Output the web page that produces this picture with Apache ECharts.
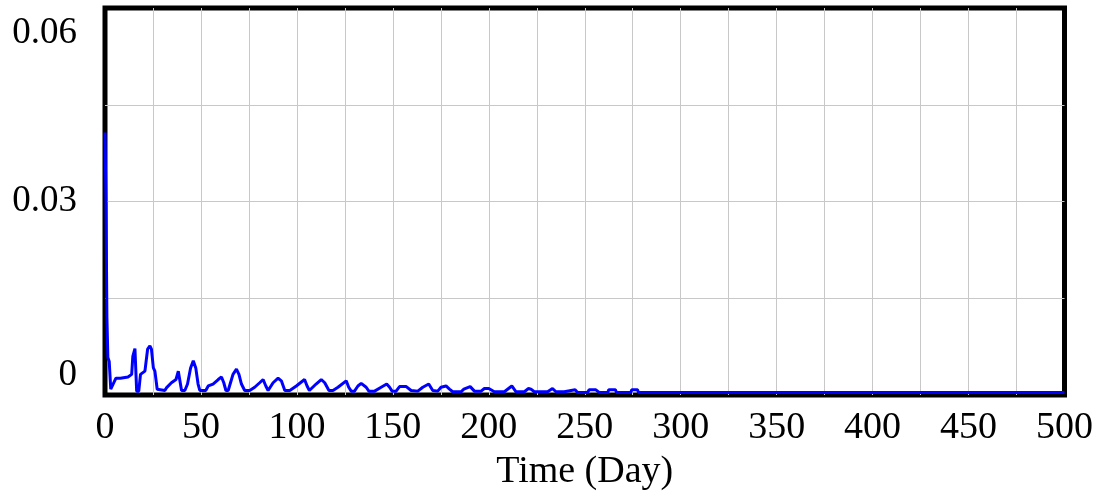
<!DOCTYPE html>
<html>
<head>
<meta charset="utf-8">
<script src="https://cdn.jsdelivr.net/npm/echarts@6/dist/echarts.min.js"></script>
<style>
html,body{margin:0;padding:0;background:#fff;}
#chart{width:1096px;height:496px;}
</style>
</head>
<body>
<div id="chart"></div>
<script>
const timeDays = [0,0.5,1,1.5,2.2,3,4,5.7,8,12,13.9,14.5,15.2,15.6,16.3,16.5,17.6,18.5,20.8,22.2,23.4,24.2,25.2,26,27.2,31.2,32,34.6,37,38.2,39,39.9,41.6,43,44.6,46,47.3,48.5,49.4,52.5,53.8,56.3,59,60.7,61.9,63,64.2,65.4,66.7,68.5,69.8,71.1,72.8,75.4,78,80.6,82.4,83.8,85,87.6,90.2,91.9,93.7,96.3,99.7,101,104,105.3,106.5,107.5,110,112.7,114.5,116.7,118.8,121.4,125.7,127,128.3,130,131.8,133.5,136.1,137.5,140.5,143.9,146.8,148.3,149.6,151.7,153.5,157,159.5,163,165.6,168.7,170.8,173.4,175.1,177.7,179.5,181.2,185.5,187,190.3,192.5,196,197.7,200,202.9,208.1,212,214.2,218.5,220.7,222,223.7,230.6,233.2,235,239.3,240.2,245,246.3,251.4,252.3,255.8,257.5,262,262.5,266,266.5,274,274.5,277.5,278,500];
const values = [0.0407,0.030,0.012,0.0058,0.0052,0.0009,0.0007,0.0026,0.0026,0.0028,0.0032,0.006,0.0061,0.0072,0.0072,0.0006,0.0006,0.0032,0.0037,0.0071,0.0076,0.0071,0.0042,0.0037,0.0009,0.0007,0.0011,0.0019,0.0024,0.0037,0.0034,0.0007,0.0007,0.0017,0.0042,0.0053,0.0042,0.0017,0.0007,0.0007,0.0014,0.0017,0.0024,0.0028,0.0019,0.0007,0.0007,0.0019,0.0032,0.004,0.0032,0.0017,0.0007,0.0007,0.0012,0.0019,0.0024,0.0014,0.0007,0.0019,0.0026,0.0022,0.0007,0.0007,0.0014,0.0017,0.0024,0.0014,0.0007,0.0007,0.0017,0.0024,0.0019,0.0007,0.0007,0.0012,0.0022,0.0012,0.0006,0.0006,0.0014,0.0018,0.0012,0.0006,0.0006,0.0012,0.0017,0.0012,0.0006,0.0006,0.0013,0.0013,0.0007,0.0006,0.0012,0.0017,0.0007,0.0006,0.0012,0.0014,0.0009,0.0005,0.0005,0.0009,0.0013,0.0006,0.0006,0.001,0.001,0.0005,0.0005,0.0014,0.0005,0.0005,0.001,0.0009,0.0005,0.0005,0.001,0.0005,0.0005,0.0008,0.0008,0.0004,0.0004,0.0008,0.0008,0.0004,0.0004,0.0008,0.0008,0.0004,0.0004,0.0008,0.0008,0.0004,0.0004];
const xTickLabels = [0,50,100,150,200,250,300,350,400,450,500];
const yTickLabels = [0,0.03,0.06];
const xTitle = 'Time (Day)';

const points = timeDays.map((t,i)=>[t, values[i]]);
const FONT = '"Liberation Serif","Times New Roman",serif';
const chart = echarts.init(document.getElementById('chart'), null, {renderer:'canvas'});
chart.setOption({
  animation:false,
  backgroundColor:'#fff',
  grid:{left:105,right:30,top:8,bottom:99,show:true,borderColor:'#000',borderWidth:5,backgroundColor:'transparent'},
  xAxis:{
    type:'value',min:0,max:500,interval:25,
    name:xTitle,nameLocation:'middle',nameGap:58,
    nameTextStyle:{fontFamily:FONT,fontSize:38,color:'#000'},
    axisLine:{show:false},axisTick:{show:false},
    splitLine:{show:true,showMinLine:false,showMaxLine:false,lineStyle:{color:'#c8c8c8',width:1}},
    axisLabel:{fontFamily:FONT,fontSize:38,color:'#000',margin:14,
      formatter:v=> xTickLabels.includes(v) ? String(v) : ''}
  },
  yAxis:{
    type:'value',min:0,max:0.06,interval:0.015,
    axisLine:{show:false},axisTick:{show:false},
    splitLine:{show:true,showMinLine:false,showMaxLine:false,lineStyle:{color:'#c8c8c8',width:1}},
    axisLabel:{fontFamily:FONT,fontSize:37,color:'#000',margin:28,
      formatter:v=>{
        const k = yTickLabels.find(y=>Math.abs(y-v)<1e-9);
        if(k===undefined) return '';
        if(k===0.06) return '{top|0.06}';
        if(k===0) return '{bot|0}';
        return '{mid|0.03}';
      },
      rich:{
        top:{fontFamily:FONT,fontSize:37,color:'#000',padding:[50,0,0,0]},
        bot:{fontFamily:FONT,fontSize:37,color:'#000',padding:[0,0,40,0]},
        mid:{fontFamily:FONT,fontSize:37,color:'#000'}
      }}
  },
  series:[{type:'line',data:points,showSymbol:false,symbol:'none',
    lineStyle:{color:'#0000ff',width:3},z:3}]
});
</script>
</body>
</html>
